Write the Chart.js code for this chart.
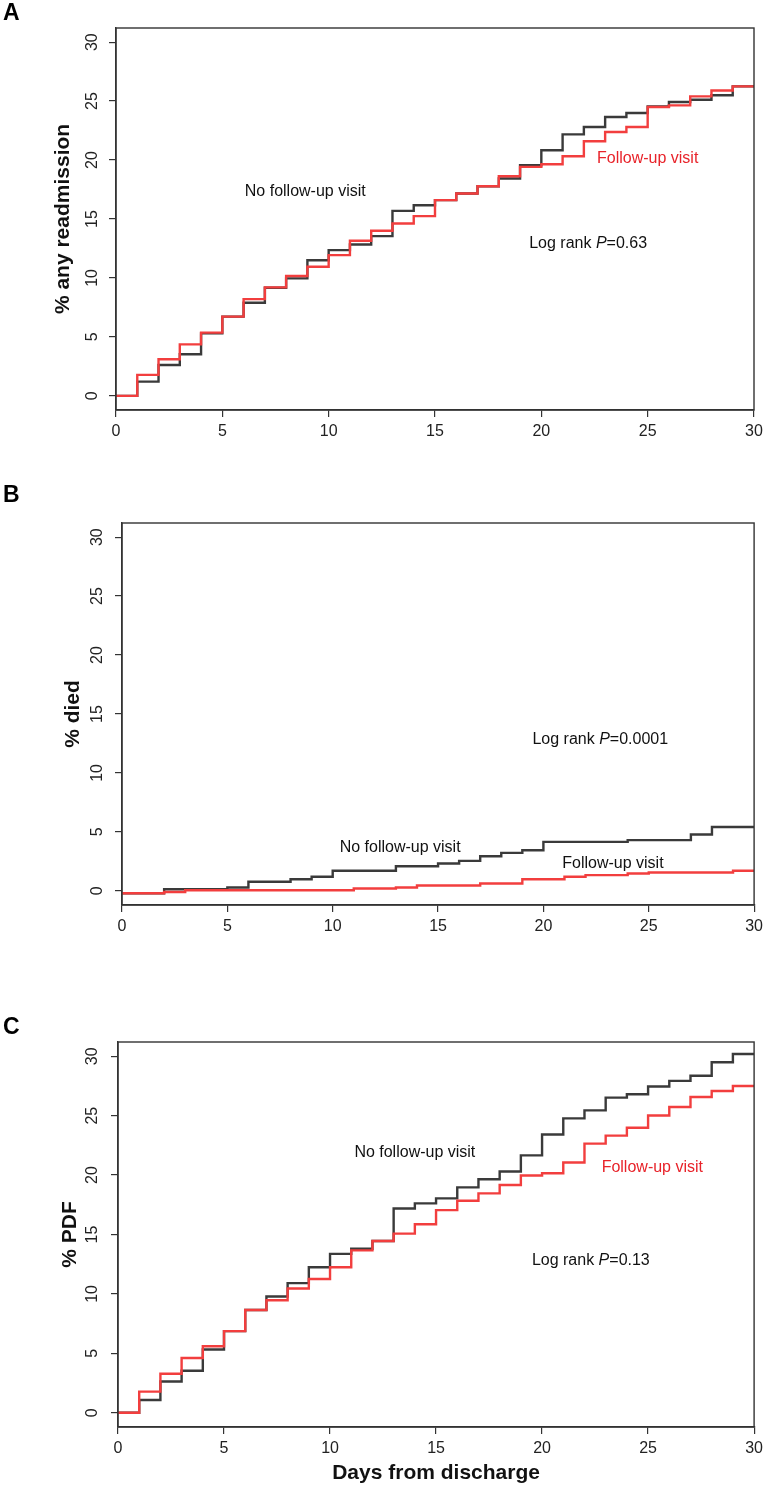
<!DOCTYPE html>
<html>
<head>
<meta charset="utf-8">
<title>Readmission, death and PDF after discharge</title>
<script src="https://cdn.jsdelivr.net/npm/chart.js@4/dist/chart.umd.min.js"></script>
<style>
  body { margin: 0; background: #ffffff; }
  #wrap { position: relative; width: 768px; height: 1490px; }
  #wrap canvas { position: absolute; left: 0; }
</style>
</head>
<body>
<div id="wrap">
  <canvas id="chart-a" width="768" height="460" style="top:0px"></canvas>
  <canvas id="chart-b" width="768" height="480" style="top:470px"></canvas>
  <canvas id="chart-c" width="768" height="530" style="top:960px"></canvas>
</div>
<script>
// Days from discharge (x) and axis ticks
const days = [0, 1, 2, 3, 4, 5, 6, 7, 8, 9, 10, 11, 12, 13, 14, 15, 16, 17, 18, 19, 20, 21, 22, 23, 24, 25, 26, 27, 28, 29, 30];
const xTicks = [0, 5, 10, 15, 20, 25, 30];
const yTicks = [0, 5, 10, 15, 20, 25, 30];

// A: % any readmission
const readmitNoVisit = [0, 1.21, 2.62, 3.53, 5.3, 6.72, 7.9, 9.17, 9.96, 11.5, 12.36, 12.84, 13.55, 15.69, 16.17, 16.6,
  17.16, 17.78, 18.43, 19.56, 20.83, 22.18, 22.8, 23.65, 23.99, 24.55, 24.92, 25.12, 25.5, 26.25, 26.25];
const readmitVisit = [0, 1.78, 3.1, 4.37, 5.36, 6.72, 8.2, 9.2, 10.16, 10.95, 11.94, 13.15, 14.0, 14.62, 15.24, 16.6,
  17.16, 17.78, 18.63, 19.42, 19.64, 20.32, 21.59, 22.38, 22.8, 24.5, 24.64, 25.4, 25.9, 26.25, 26.25];

// B: % died
const diedNoVisit = [-0.2, -0.2, 0.14, 0.14, 0.14, 0.29, 0.77, 0.77, 0.99, 1.19, 1.7, 1.7, 1.7, 2.09, 2.09, 2.32,
  2.54, 2.94, 3.22, 3.45, 4.15, 4.15, 4.15, 4.15, 4.3, 4.3, 4.3, 4.78, 5.42, 5.42, 5.42];
const diedVisit = [-0.2, -0.2, -0.1, 0.05, 0.05, 0.05, 0.05, 0.05, 0.05, 0.05, 0.05, 0.2, 0.2, 0.29, 0.45, 0.45,
  0.45, 0.62, 0.62, 0.99, 0.99, 1.19, 1.33, 1.33, 1.47, 1.56, 1.56, 1.56, 1.56, 1.7, 1.7];

// C: % PDF
const pdfNoVisit = [0, 1.07, 2.63, 3.53, 5.32, 6.87, 8.65, 9.78, 10.91, 12.24, 13.37, 13.8, 14.45, 17.19, 17.62, 18.04,
  18.97, 19.65, 20.3, 21.66, 23.41, 24.77, 25.45, 26.52, 26.8, 27.45, 27.93, 28.36, 29.49, 30.19, 30.19];
const pdfVisit = [0, 1.78, 3.28, 4.61, 5.6, 6.87, 8.65, 9.47, 10.46, 11.25, 12.24, 13.66, 14.45, 15.07, 15.86, 17.05,
  17.84, 18.46, 19.17, 19.96, 20.16, 21.06, 22.65, 23.32, 23.98, 25.02, 25.73, 26.57, 27.08, 27.5, 27.5];

const FONT = '"Liberation Sans", Arial, Helvetica, sans-serif';
const AXIS_COLOR = '#333333';
const BLACK_LINE = '#3a3a3a';
const RED_LINE = '#f23e3e';
const RED_TEXT = '#e8232a';

// draws one text note, parts may be italic, centred at (cx, cy)
function drawNote(ctx, cx, cy, note) {
  const fontFor = p => (p.italic ? 'italic ' : '') + '16px ' + FONT;
  let total = 0;
  note.parts.forEach(p => { ctx.font = fontFor(p); total += ctx.measureText(p.t).width; });
  let x = cx - total / 2;
  ctx.fillStyle = note.color || '#111111';
  ctx.textAlign = 'left';
  ctx.textBaseline = 'middle';
  note.parts.forEach(p => {
    ctx.font = fontFor(p);
    ctx.fillText(p.t, x, cy);
    x += ctx.measureText(p.t).width;
  });
}

// box around plot, panel letter and notes
const panelDecor = {
  id: 'panelDecor',
  afterDraw(chart, args, opts) {
    const { ctx, chartArea: a, scales } = chart;
    ctx.save();
    ctx.strokeStyle = AXIS_COLOR;
    ctx.lineWidth = 1.4;
    ctx.strokeRect(a.left, a.top, a.right - a.left, a.bottom - a.top);

    ctx.fillStyle = '#000000';
    ctx.font = 'bold 23px ' + FONT;
    ctx.textAlign = 'left';
    ctx.textBaseline = 'top';
    ctx.fillText(opts.letter, opts.letterX, opts.letterY);

    opts.notes.forEach(n => {
      drawNote(ctx, scales.x.getPixelForValue(n.x), scales.y.getPixelForValue(n.y), n);
    });
    ctx.restore();
  }
};

function makePanel(canvasId, cfg) {
  const toPoints = vals => days.map((d, i) => ({ x: d, y: vals[i] }));
  return new Chart(document.getElementById(canvasId), {
    type: 'line',
    data: {
      datasets: [{
        label: 'No follow-up visit',
        data: toPoints(cfg.noVisit),
        borderColor: BLACK_LINE,
        borderWidth: 2.4,
        stepped: 'before',
        pointRadius: 0,
        order: 2
      }, {
        label: 'Follow-up visit',
        data: toPoints(cfg.visit),
        borderColor: RED_LINE,
        borderWidth: 2.4,
        stepped: 'before',
        pointRadius: 0,
        order: 1
      }]
    },
    options: {
      responsive: false,
      animation: false,
      devicePixelRatio: 1,
      layout: { padding: cfg.padding },
      plugins: {
        legend: { display: false },
        tooltip: { enabled: false },
        panelDecor: { letter: cfg.letter, letterX: 3, letterY: cfg.letterY, notes: cfg.notes }
      },
      scales: {
        x: {
          type: 'linear',
          min: 0,
          max: 30,
          afterBuildTicks: s => { s.ticks = xTicks.map(v => ({ value: v })); },
          afterFit: s => { s.height = cfg.xHeight; },
          grid: { display: true, drawOnChartArea: false, drawTicks: true, tickLength: 7, color: AXIS_COLOR, lineWidth: 1.2 },
          border: { display: true, color: AXIS_COLOR, width: 1.4 },
          ticks: { color: '#222222', font: { family: FONT, size: 16 }, padding: 5, maxRotation: 0 },
          title: cfg.xTitle ? {
            display: true,
            text: cfg.xTitle,
            color: '#111111',
            font: { family: FONT, size: 21, weight: 'bold' },
            padding: { top: 0, bottom: 4 }
          } : { display: false }
        },
        y: {
          type: 'linear',
          min: -1.2,
          max: 31.2,
          afterBuildTicks: s => { s.ticks = yTicks.map(v => ({ value: v })); },
          afterFit: s => { s.width = cfg.yWidth; },
          grid: { display: true, drawOnChartArea: false, drawTicks: true, tickLength: 7, color: AXIS_COLOR, lineWidth: 1.2 },
          border: { display: true, color: AXIS_COLOR, width: 1.4 },
          ticks: { color: '#222222', font: { family: FONT, size: 16 }, padding: cfg.yTickPad, minRotation: 90, maxRotation: 90, crossAlign: 'center' },
          title: {
            display: true,
            text: cfg.yTitle,
            color: '#111111',
            font: { family: FONT, size: 21, weight: 'bold' },
            padding: { top: cfg.yTitlePad, bottom: 0 }
          }
        }
      }
    },
    plugins: [panelDecor]
  });
}

const logRank = p => [{ t: 'Log rank ' }, { t: 'P', italic: true }, { t: '=' + p }];

makePanel('chart-a', {
  letter: 'A', letterY: 2,
  noVisit: readmitNoVisit, visit: readmitVisit,
  yTitle: '% any readmission', yTitlePad: 51, yTickPad: 7.5,
  yWidth: 116, xHeight: 40,
  padding: { left: 0, top: 28, right: 14, bottom: 10 },
  notes: [
    { x: 8.9, y: 17.3, parts: [{ t: 'No follow-up visit' }] },
    { x: 25.0, y: 20.1, parts: [{ t: 'Follow-up visit' }], color: RED_TEXT },
    { x: 22.2, y: 12.9, parts: logRank('0.63') }
  ]
});

makePanel('chart-b', {
  letter: 'B', letterY: 14,
  noVisit: diedNoVisit, visit: diedVisit,
  yTitle: '% died', yTitlePad: 61, yTickPad: 8.5,
  yWidth: 122, xHeight: 40,
  padding: { left: 0, top: 53, right: 12, bottom: 5 },
  notes: [
    { x: 13.2, y: 3.7, parts: [{ t: 'No follow-up visit' }] },
    { x: 23.3, y: 2.35, parts: [{ t: 'Follow-up visit' }] },
    { x: 22.7, y: 12.8, parts: logRank('0.0001') }
  ]
});

makePanel('chart-c', {
  letter: 'C', letterY: 56,
  noVisit: pdfNoVisit, visit: pdfVisit,
  yTitle: '% PDF', yTitlePad: 58, yTickPad: 9.5,
  yWidth: 118, xHeight: 63,
  xTitle: 'Days from discharge',
  padding: { left: 0, top: 82, right: 10, bottom: 0 },
  notes: [
    { x: 14.0, y: 21.9, parts: [{ t: 'No follow-up visit' }] },
    { x: 25.2, y: 20.6, parts: [{ t: 'Follow-up visit' }], color: RED_TEXT },
    { x: 22.3, y: 12.8, parts: logRank('0.13') }
  ]
});
</script>
</body>
</html>
